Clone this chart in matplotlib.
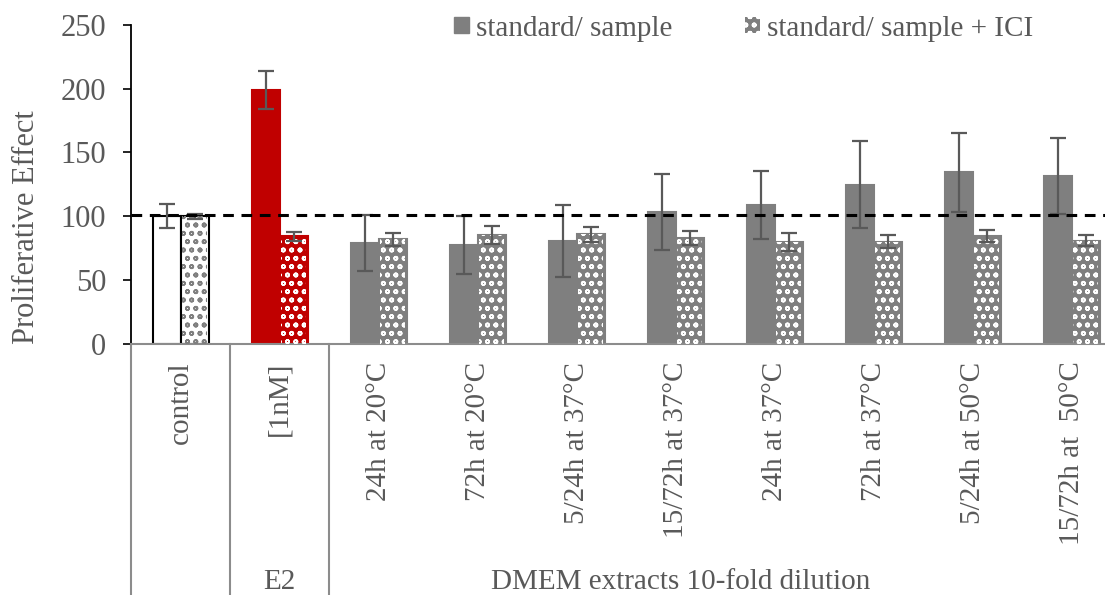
import numpy as np
import matplotlib

matplotlib.use("Agg")
import matplotlib.pyplot as plt
from matplotlib.patches import Patch

plt.rcParams["font.family"] = ["Liberation Serif", "DejaVu Serif"]
plt.rcParams["hatch.linewidth"] = 1.2

TEXT = "#595959"
GREY = "#7f7f7f"
RED = "#c00000"

categories = ["control", "[1nM]", "24h at 20°C", "72h at 20°C", "5/24h at 37°C",
              "15/72h at 37°C", "24h at 37°C", "72h at 37°C", "5/24h at 50°C",
              "15/72h at  50°C"]
groups = ["", "E2", "DMEM extracts 10-fold dilution"]
std_vals = [100, 199, 79, 77.6, 80.7, 103.5, 109, 124.6, 134.5, 131.5]
std_err = [9.5, 15, 22, 23, 28.5, 29.5, 26.5, 34, 31, 30]
ici_vals = [100, 84.5, 82, 85.4, 86, 83, 80, 80, 84.5, 81]
ici_err = [2, 3.5, 5, 7, 6, 5.5, 7, 5, 4.5, 4.5]
reference_level = 101

x = np.arange(len(categories))
w = 0.283

fig = plt.figure(figsize=(11.05, 5.95), dpi=100)
ax = fig.add_axes([0.1186, 0.4218, 0.896, 0.5367])

std_face = ["white", RED] + [GREY] * 8
std_edge = ["black", RED] + [GREY] * 8
ici_face = ["white", RED] + [GREY] * 8
ici_hatch = [GREY, "white"] + ["white"] * 8
ici_edge = ["black", RED] + [GREY] * 8

ax.bar(x - w / 2, std_vals, w, color=std_face, edgecolor=std_edge, lw=1.5, zorder=2)
ax.bar(x + w / 2, ici_vals, w, color=ici_face, edgecolor=ici_edge, lw=1.5, zorder=2)
# wave-like pattern on the +ICI bars
for xi, v, hc in zip(x, ici_vals, ici_hatch):
    ax.bar(xi + w / 2, v, w * 0.9, color="none", edgecolor=hc, hatch="oo", lw=0, zorder=3)

ax.errorbar(x - w / 2, std_vals, yerr=std_err, fmt="none", ecolor=TEXT, elinewidth=1.6,
            capsize=6, capthick=1.6, zorder=4)
ax.errorbar(x + w / 2, ici_vals, yerr=ici_err, fmt="none", ecolor=TEXT, elinewidth=1.6,
            capsize=6, capthick=1.6, zorder=4)

ax.axhline(reference_level, color="black", lw=2.2, dashes=(3.5, 2.5), zorder=5)

ax.set_xlim(-0.5, len(categories) - 0.5)
ax.set_ylim(0, 250)
ax.set_yticks(range(0, 251, 50))
ax.tick_params(axis="y", colors="black", labelcolor=TEXT, labelsize=22, length=6, width=1.2,
               pad=12)
ax.set_xticks([])
for s in ["top", "right"]:
    ax.spines[s].set_visible(False)
ax.spines["left"].set_linewidth(1.3)
ax.spines["bottom"].set_color("#8c8c8c")
ax.spines["bottom"].set_linewidth(1.5)
ax.set_ylabel("Proliferative Effect", fontsize=22, color=TEXT)
ax.yaxis.set_label_coords(-0.091, 0.365)

# multi-level category axis
tr = ax.get_xaxis_transform()
for sep in [-0.5, 0.5, 1.5]:
    ax.plot([sep, sep], [0, -0.9], transform=tr, color="#8c8c8c", lw=1.5, clip_on=False)
for xi, lab in zip(x, categories):
    ax.text(xi, -0.055, lab, transform=tr, rotation=90, ha="center", va="top",
            fontsize=21, color=TEXT)
ax.text(1, -0.745, groups[1], transform=tr, ha="center", va="center", fontsize=21, color=TEXT)
ax.text(5.05, -0.745, groups[2], transform=tr, ha="center", va="center", fontsize=21,
        color=TEXT)

handles = [Patch(facecolor=GREY, edgecolor=GREY),
           Patch(facecolor=GREY, edgecolor="white", hatch="oo", lw=0)]
fig.legend(handles, ["standard/ sample", "standard/ sample + ICI"], loc="upper center",
           bbox_to_anchor=(0.673, 1.018), ncol=2, frameon=False, fontsize=21,
           labelcolor=TEXT, handlelength=0.5, handleheight=0.5, handletextpad=0.24,
           columnspacing=2.5)

fig.savefig("out.png", dpi=100)
